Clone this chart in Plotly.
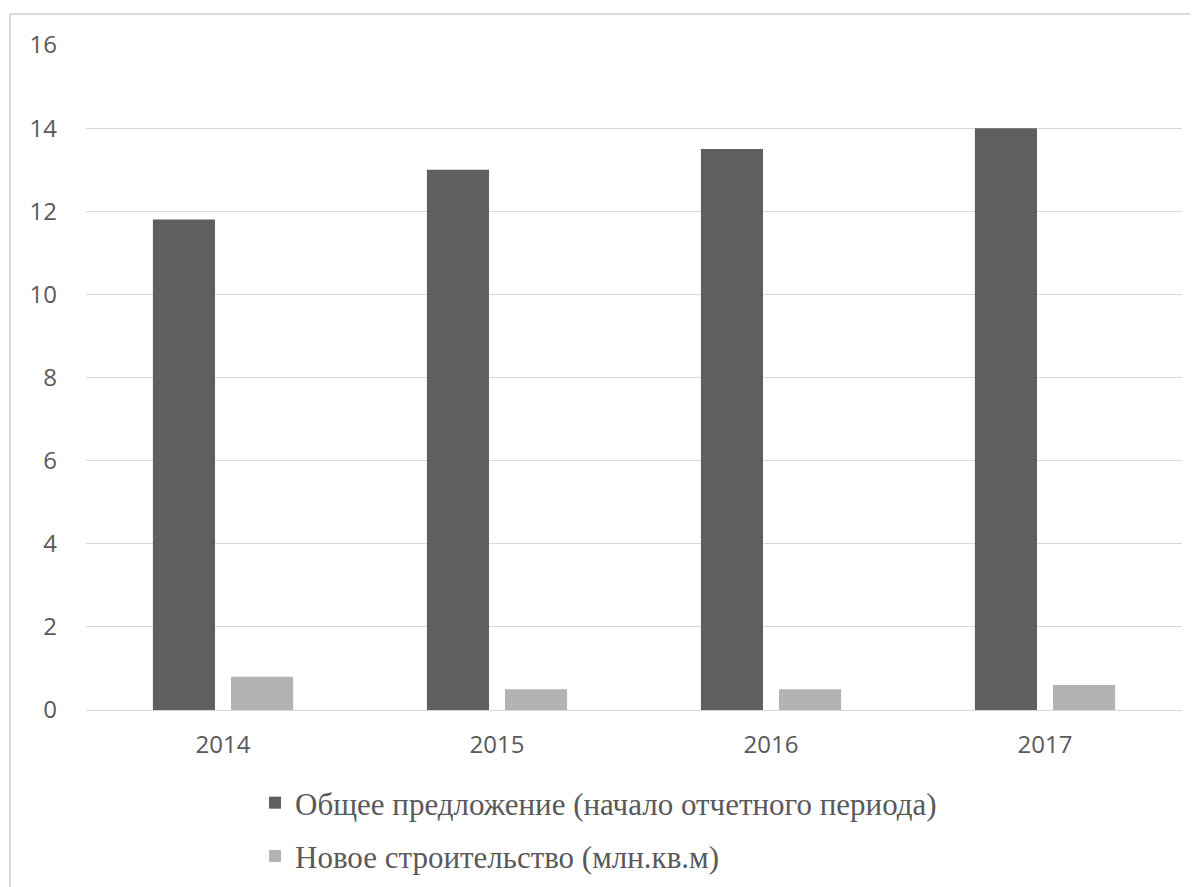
import plotly.graph_objects as go

years = ["2014", "2015", "2016", "2017"]
total_supply = [11.8, 13.0, 13.5, 14.0]
new_construction = [0.8, 0.5, 0.5, 0.6]
series_names = ["Общее предложение (начало отчетного периода)", "Новое строительство (млн.кв.м)"]
y_ticks = [0, 2, 4, 6, 8, 10, 12, 14, 16]

# page has an 8px body margin; work in figure coordinates (page - 8)
W, H = 1190, 879
ML, MR, MT, MB = 78, 16, 37, 177
pw = W - ML - MR
ph = H - MT - MB

fig = go.Figure()
fig.add_trace(go.Bar(x=years, y=total_supply, name=series_names[0],
                     marker=dict(color="#5f5f5f", line=dict(width=0)), legendgroup="a"))
fig.add_trace(go.Bar(x=years, y=new_construction, name=series_names[1],
                     marker=dict(color="#b3b3b3", line=dict(width=0)), legendgroup="b"))

def px_x(x):
    return (x - ML) / pw

def px_y(y):
    return 1 - (y - MT) / ph

fig.update_layout(
    width=W, height=H,
    margin=dict(l=ML, r=MR, t=MT, b=MB, pad=0, autoexpand=False),
    paper_bgcolor="white", plot_bgcolor="white",
    barmode="group", bargap=0.43, bargroupgap=0.205,
    showlegend=True,
    legend=dict(orientation="v", xref="container", yref="container",
                x=247 / W, xanchor="left", y=1 - 768 / H, yanchor="top",
                font=dict(family="Liberation Serif", size=31, color="#595959"),
                traceorder="grouped", tracegroupgap=10, itemwidth=30,
                bgcolor="rgba(0,0,0,0)"),
    xaxis=dict(showgrid=False, showline=True, linecolor="#d9d9d9", linewidth=1,
               ticks="", tickfont=dict(family="Open Sans", size=24, color="#595959"),
               ticklabelstandoff=13),
    yaxis=dict(range=[0, 16], tickvals=y_ticks, showgrid=True, gridcolor="#d9d9d9", gridwidth=1,
               zeroline=False, showline=False, ticks="",
               tickfont=dict(family="Open Sans", size=24, color="#595959"),
               ticklabelstandoff=28),
    shapes=[
        dict(type="line", xref="paper", yref="paper", x0=px_x(2), x1=px_x(1200), y0=px_y(6), y1=px_y(6),
             line=dict(color="#d9d9d9", width=2)),
        dict(type="line", xref="paper", yref="paper", x0=px_x(2), x1=px_x(2), y0=px_y(6), y1=px_y(890),
             line=dict(color="#d9d9d9", width=2)),
    ],
)

fig.write_html("out.html")
